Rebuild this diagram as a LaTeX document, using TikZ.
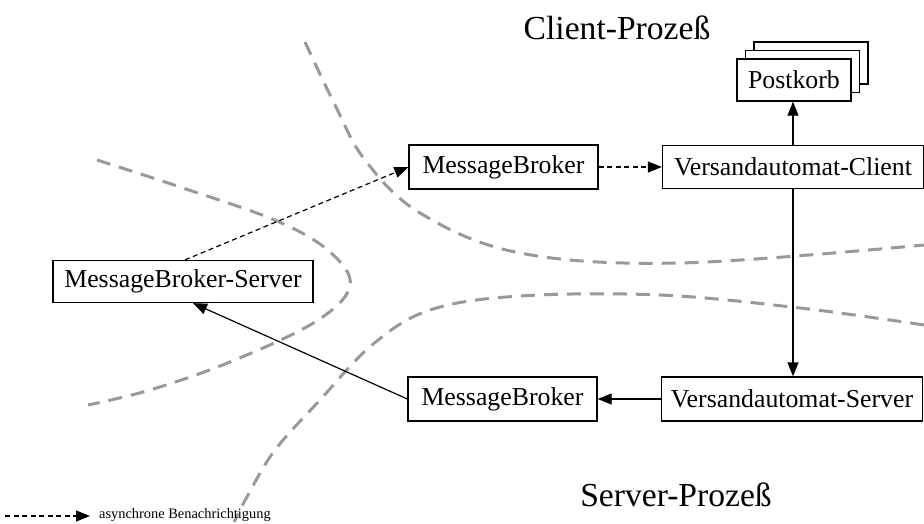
\documentclass[tikz,border=0pt]{standalone}
\usepackage{fontspec}
\setmainfont{Liberation Serif}
\usetikzlibrary{arrows.meta,calc}

\tikzset{
  box/.style={draw, line width=1.3pt, fill=white, inner sep=0pt,
    font=\fontsize{25.8}{30}\selectfont},
  heading/.style={inner sep=0pt, font=\fontsize{33.6}{38}\selectfont},
  link/.style={line width=1.2pt, -{Triangle[length=14pt,width=11pt]}},
  asynclink/.style={link, dash pattern=on 5pt off 3.5pt},
  border/.style={line width=3pt, draw=black!40, dash pattern=on 14pt off 9pt,
    line cap=butt},
}

\begin{document}
\begin{tikzpicture}[x=1pt, y=-1pt]
  \useasboundingbox (0,0) rectangle (924,524);

  % process boundaries
  \draw[border] plot[smooth, tension=0.6] coordinates
    {(305,42) (335,105) (365,160) (420,213) (520,253) (680,263) (924,245)};
  \draw[border] plot[smooth, tension=0.6] coordinates
    {(97,160) (180,187) (277,221) (330,252) (350,286) (315,322) (230,362) (150,390) (88,405)};
  \draw[border] plot[smooth, tension=0.6] coordinates
    {(924,325) (800,308) (660,295) (520,296) (430,310) (372,345) (320,400) (275,450) (248,495) (234,522)};

  % process labels
  \node[heading] (client) at (617,28) {Client-Prozeß};
  \node[heading] (server) at (676,495) {Server-Prozeß};

  % mailbox stack
  \node[box, minimum width=114pt, minimum height=42pt] (pk3) at (811,63) {};
  \node[box, minimum width=114pt, minimum height=42pt] (pk2) at (802.5,71.5) {};
  \node[box, minimum width=114pt, minimum height=42pt] (postkorb) at (794,80) {Postkorb};

  % components
  \node[box, minimum width=189pt, minimum height=44pt] (mbtop) at (503.5,167) {MessageBroker};
  \node[box, minimum width=261pt, minimum height=43pt] (vac) at (793,167) {Versandautomat-Client};
  \node[box, minimum width=261pt, minimum height=44pt] (vas) at (792,399) {Versandautomat-Server};
  \node[box, minimum width=189pt, minimum height=44pt] (mbbot) at (502.5,399) {MessageBroker};
  \node[box, minimum width=260pt, minimum height=42pt] (mbs) at (183,281.5) {MessageBroker-Server};

  % connectors
  \coordinate (mbsin) at ($(mbs.south)+(10,0)$);
  \coordinate (mbsout) at ($(mbs.north)+(2,0)$);
  \draw[link] (vac.north) -- (vac.north |- postkorb.south);
  \draw[link] (vac.south) -- (vac.south |- vas.north);
  \draw[link] (vas.west) -- (mbbot.east);
  \draw[link] (mbbot.west) -- (mbsin);
  \draw[asynclink] (mbsout) -- (mbtop.west);
  \draw[asynclink] (mbtop.east) -- (vac.west);

  % legend
  \coordinate (legstart) at (5,516);
  \coordinate (legend) at (90,516);
  \draw[asynclink] (legstart) -- (legend);
  \node[anchor=west, inner sep=0pt, font=\fontsize{14.4}{17}\selectfont] (legtext) at (99,515) {asynchrone Benachrichtigung};
\end{tikzpicture}
\end{document}
